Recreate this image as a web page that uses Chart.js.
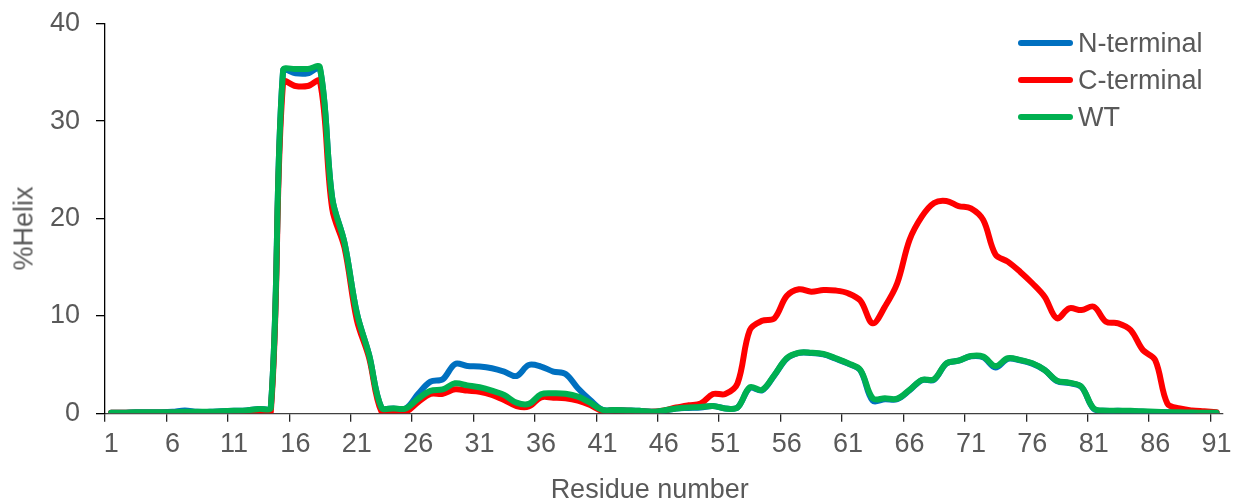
<!DOCTYPE html>
<html>
<head>
<meta charset="utf-8">
<title>%Helix por residuo</title>
<script src="https://cdn.jsdelivr.net/npm/chart.js@4.4.1/dist/chart.umd.min.js"></script>
<style>
body{margin:0;background:#fff;font-family:"Liberation Sans",Arial,sans-serif;}
#wrap{position:relative;width:1239px;height:499px;overflow:hidden;}
#grafico{position:absolute;left:0;top:0;}
.txt{position:absolute;color:#595959;font-size:27px;line-height:27px;white-space:nowrap;}
#tituloY{left:-76.4px;top:214.5px;width:200px;text-align:center;transform:rotate(-90deg);}
#tituloX{left:499.7px;top:476px;width:300px;text-align:center;}
.linea{position:absolute;left:1018px;width:55px;height:6px;border-radius:3px;}
</style>
</head>
<body>
<div id="wrap">
 <canvas id="grafico" width="1239" height="499"></canvas>
 <div class="txt" id="tituloY">%Helix</div>
 <div class="txt" id="tituloX">Residue number</div>
 <div id="leyenda"></div>
</div>
<script>
const FUENTE='"Liberation Sans", Arial, sans-serif';
const GRIS='#595959';

// residuos 1..91
const RESIDUOS=Array.from({length:91},(_,i)=>String(i+1));

const SERIES=['N-terminal','C-terminal','WT'];
const COLORES=['#0070c0','#ff0000','#00b050'];

const N_TERMINAL=[
 0.05,0.05,0.1,0.1,0.1,0.15,0.3,0.15,0.15,0.2,
 0.25,0.3,0.45,0.6,35.2,34.9,34.9,35.4,22.1,17.5,
 10.3,6.0,0.6,0.5,0.5,2.0,3.25,3.5,5.06,4.86,
 4.8,4.62,4.28,3.83,4.96,4.8,4.28,4.03,2.57,1.37,
 0.35,0.35,0.3,0.25,0.15,0.25,0.5,0.55,0.6,0.75,
 0.5,0.6,2.6,2.35,3.9,5.6,6.2,6.2,6.05,5.6,
 5.1,4.4,1.3,1.45,1.45,2.35,3.4,3.45,5.1,5.4,
 5.85,5.75,4.7,5.6,5.45,5.1,4.45,3.3,3.1,2.7,
 0.45,0.25,0.25,0.2,0.15,0.1,0.1,0.1,0.05,0.05,
 0.05
];
const C_TERMINAL=[
 0.05,0.05,0.05,0.05,0.05,0.05,0.05,0.05,0.05,0.1,
 0.1,0.1,0.2,0.15,34.0,33.6,33.6,34.1,21.0,17.0,
 9.6,5.7,0.2,0.1,0.15,1.15,2.0,2.0,2.46,2.33,
 2.22,1.9,1.37,0.75,0.7,1.64,1.6,1.54,1.3,0.85,
 0.25,0.3,0.25,0.2,0.15,0.3,0.6,0.82,1.0,1.98,
 1.98,3.08,8.55,9.5,9.75,12.04,12.73,12.49,12.66,12.6,
 12.32,11.56,9.24,10.95,13.35,17.8,20.2,21.6,21.8,21.28,
 21.04,19.85,16.3,15.57,14.54,13.35,11.97,9.75,10.78,10.6,
 10.95,9.4,9.24,8.55,6.5,5.47,1.0,0.5,0.3,0.2,
 0.1
];
const WT=[
 0.05,0.05,0.1,0.1,0.1,0.1,0.15,0.15,0.15,0.2,
 0.25,0.3,0.45,0.6,35.2,35.35,35.35,35.5,22.1,17.5,
 10.3,6.0,0.6,0.5,0.5,1.5,2.3,2.45,3.08,2.87,
 2.67,2.33,1.88,1.09,0.96,1.95,2.05,2.0,1.71,1.09,
 0.34,0.35,0.3,0.25,0.15,0.3,0.5,0.6,0.65,0.75,
 0.5,0.6,2.67,2.4,3.93,5.65,6.22,6.22,6.09,5.65,
 5.13,4.45,1.54,1.54,1.5,2.4,3.42,3.49,5.13,5.4,
 5.88,5.82,4.85,5.65,5.47,5.13,4.45,3.35,3.14,2.73,
 0.5,0.27,0.27,0.25,0.2,0.15,0.12,0.1,0.08,0.06,
 0.05
];
const DATOS=[N_TERMINAL,C_TERMINAL,WT];

// leyenda arriba a la derecha, dentro del area
const leyenda=document.getElementById('leyenda');
const FILAS_Y=[43.3,80.3,117.3];
SERIES.forEach((s,i)=>{
 const l=document.createElement('div');
 l.className='linea';
 l.style.top=(FILAS_Y[i]-3)+'px';
 l.style.background=COLORES[i];
 leyenda.appendChild(l);
 const t=document.createElement('div');
 t.className='txt';
 t.style.left='1078px';
 t.style.top=(FILAS_Y[i]-13.2)+'px';
 t.textContent=s;
 leyenda.appendChild(t);
});

const ctx=document.getElementById('grafico').getContext('2d');
new Chart(ctx,{
 type:'line',
 data:{
  labels:RESIDUOS,
  // WT encima, luego C-terminal, luego N-terminal
  datasets:SERIES.map((s,i)=>({label:s,data:DATOS[i],borderColor:COLORES[i],backgroundColor:COLORES[i],order:2-i}))
 },
 options:{
  responsive:false,
  animation:false,
  devicePixelRatio:1,
  layout:{padding:{top:23.7,right:16.3,bottom:0,left:0}},
  elements:{
   line:{borderWidth:6,tension:0.35,borderCapStyle:'round',borderJoinStyle:'round',fill:false},
   point:{radius:0,hoverRadius:0}
  },
  plugins:{legend:{display:false},tooltip:{enabled:false}},
  scales:{
   x:{
    type:'category',
    offset:true,
    grid:{offset:true,drawOnChartArea:false,drawTicks:true,tickLength:8.5,lineWidth:1.3,
     color:c=>(c.index!==undefined&&c.index%5===0)?'#262626':'rgba(0,0,0,0)'},
    border:{color:'#404040',width:1.3},
    ticks:{autoSkip:false,maxRotation:0,minRotation:0,padding:7,color:GRIS,font:{family:FUENTE,size:27},
     callback:(v,i)=>i%5===0?RESIDUOS[i]:''},
    afterFit:s=>{s.height=85.7;s.paddingLeft=0;s.paddingRight=0;}
   },
   y:{
    min:0,max:40,
    ticks:{stepSize:10,padding:16,color:GRIS,font:{family:FUENTE,size:27}},
    grid:{drawOnChartArea:false,tickLength:9,color:'#000',lineWidth:1.3},
    border:{color:'#000',width:1.3},
    afterFit:s=>{s.width=105;s.paddingTop=0;s.paddingBottom=0;}
   }
  }
 }
});
</script>
</body>
</html>
